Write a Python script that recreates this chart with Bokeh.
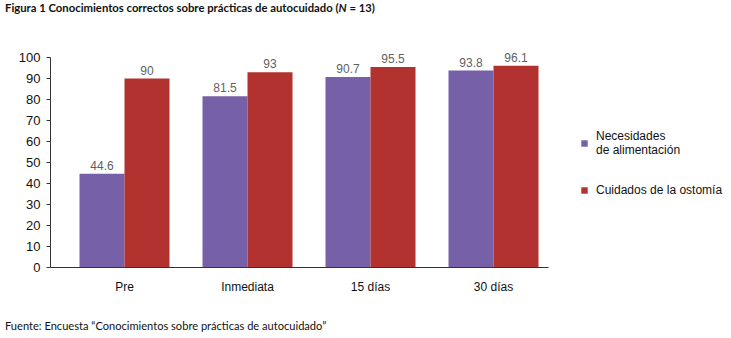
from bokeh.plotting import figure
from bokeh.models import (ColumnDataSource, LabelSet, Legend, LegendItem,
                          FixedTicker, Range1d, Div)
from bokeh.layouts import column
from bokeh.core.properties import value
from bokeh.embed import file_html
from bokeh.resources import INLINE

categories = ["Pre", "Inmediata", "15 días", "30 días"]
alimentacion = [44.6, 81.5, 90.7, 93.8]
ostomia = [90, 93, 95.5, 96.1]
alimentacion_txt = ["44.6", "81.5", "90.7", "93.8"]
ostomia_txt = ["90", "93", "95.5", "96.1"]
y_ticks = [0, 10, 20, 30, 40, 50, 60, 70, 80, 90, 100]

PURPLE = "#7661A9"
RED = "#B1322F"

W = 731
TITLE_H = 20
FIG_H = 290
FOOT_H = 338 - TITLE_H - FIG_H

FL = 50
FT = 22          # frame top inside figure
FB = 247         # frame bottom inside figure (canvas y 267)
UNIT = 123.0     # px per category
X0 = 124.0       # canvas x of category 0
PX_PER_Y = 2.1

xs = list(range(len(categories)))
bw = 45.0 / UNIT
x_a = [x - bw / 2 for x in xs]
x_o = [x + bw / 2 for x in xs]

x_start = (FL - X0) / UNIT
x_end = (W - X0) / UNIT
x_axis_end = (548 - X0) / UNIT
y_end = (FB - FT) / PX_PER_Y

p = figure(width=W, height=FIG_H, output_backend="svg", toolbar_location=None,
           x_range=Range1d(x_start, x_end), y_range=Range1d(0, y_end))
p.min_border_left = FL
p.min_border_right = 0
p.min_border_top = FT
p.min_border_bottom = FIG_H - FB
p.outline_line_color = None
p.grid.visible = False
p.background_fill_color = "white"
p.border_fill_color = "white"

src_a = ColumnDataSource(dict(x=x_a, top=alimentacion, txt=alimentacion_txt))
src_o = ColumnDataSource(dict(x=x_o, top=ostomia, txt=ostomia_txt))
r_a = p.vbar(x="x", top="top", width=bw, bottom=0, source=src_a,
             fill_color=PURPLE, line_color=None)
r_o = p.vbar(x="x", top="top", width=bw, bottom=0, source=src_o,
             fill_color=RED, line_color=None)

for src in (src_a, src_o):
    p.add_layout(LabelSet(x="x", y="top", text="txt", source=src, y_offset=4,
                          text_align="center", text_baseline="bottom",
                          text_font=value("Liberation Sans"),
                          text_font_size=value("12px"),
                          text_color="#5f5f5f"))

# axes
p.xaxis.bounds = (x_start, x_axis_end)
p.xaxis.ticker = FixedTicker(ticks=xs)
p.xaxis.major_label_overrides = {i: c for i, c in enumerate(categories)}
p.xaxis.major_tick_line_color = None
p.xaxis.minor_tick_line_color = None
p.xaxis.axis_line_color = "#333333"
p.xaxis.major_label_text_font = "Liberation Sans"
p.xaxis.major_label_text_font_size = "12px"
p.xaxis.major_label_text_color = "#111111"
p.xaxis.major_label_standoff = 6

p.yaxis.bounds = (0, 100)
p.yaxis.ticker = FixedTicker(ticks=y_ticks)
p.yaxis.minor_tick_line_color = None
p.yaxis.major_tick_out = 4
p.yaxis.major_tick_in = 0
p.yaxis.axis_line_color = "#333333"
p.yaxis.major_tick_line_color = "#333333"
p.yaxis.major_label_text_font = "Liberation Sans"
p.yaxis.major_label_text_font_size = "13px"
p.yaxis.major_label_text_color = "#111111"
p.yaxis.major_label_standoff = 6

legend = Legend(items=[
    LegendItem(label="Necesidades\nde alimentación", renderers=[r_a]),
    LegendItem(label="Cuidados de la ostomía", renderers=[r_o]),
], location=(530, 70))
legend.border_line_color = None
legend.background_fill_alpha = 0
legend.padding = 0
legend.margin = 0
legend.label_text_font = "Liberation Sans"
legend.label_text_font_size = "12px"
legend.label_text_line_height = 1.4
legend.label_text_color = "#111111"
legend.glyph_width = 8
legend.glyph_height = 8
legend.spacing = 26
legend.label_standoff = 8
p.add_layout(legend)

title = Div(
    text="Figura 1 Conocimientos correctos sobre prácticas de autocuidado (<i>N</i> = 13)",
    width=W, height=TITLE_H, margin=(0, 0, 0, 0),
    styles={"font-family": "Lato", "font-size": "11.3px", "font-weight": "bold",
            "color": "#111111", "padding-left": "5px", "padding-top": "2px",
            "line-height": "12px", "white-space": "nowrap"})
foot = Div(
    text="Fuente: Encuesta “Conocimientos sobre prácticas de autocuidado”",
    width=W, height=FOOT_H, margin=(0, 0, 0, 0),
    styles={"font-family": "Lato", "font-size": "11.1px", "color": "#111111",
            "padding-left": "5px", "padding-top": "10px",
            "line-height": "12px", "white-space": "nowrap"})

layout = column(title, p, foot, spacing=0, margin=(0, 0, 0, 0))

open("out.html", "w").write(file_html(layout, INLINE))
